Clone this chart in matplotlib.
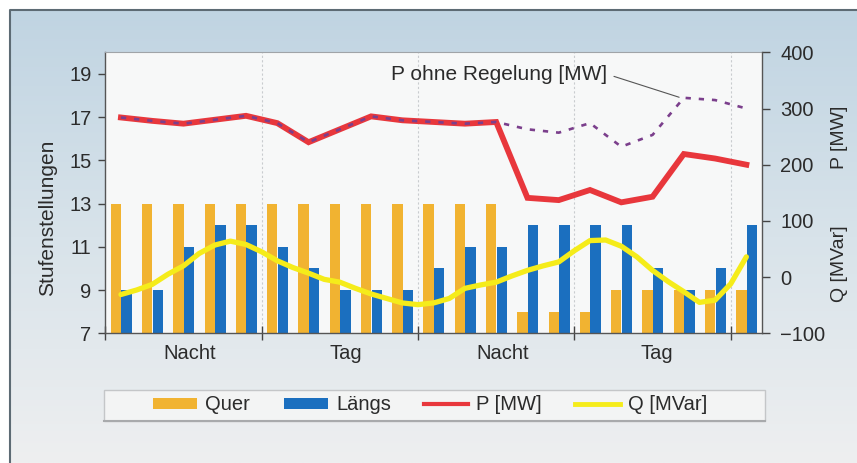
import numpy as np
import matplotlib
matplotlib.use("Agg")
import matplotlib.pyplot as plt
from matplotlib.patches import Rectangle, Patch
from matplotlib.lines import Line2D
from matplotlib.colors import to_rgb

plt.rcParams['font.family'] = ['Liberation Sans', 'DejaVu Sans']
plt.rcParams['font.size'] = 14.5

# ---------------- data ----------------
groups = list(range(21))
quer = [13, 13, 13, 13, 13, 13, 13, 13, 13, 13, 13, 13, 13, 8, 8, 8, 9, 9, 9, 9, 9]
laengs = [9, 9, 11, 12, 12, 11, 10, 9, 9, 9, 10, 11, 11, 12, 12, 12, 12, 10, 9, 10, 12]
p_mw = [284, 278, 273, 280, 287, 274, 240, 263, 286, 279, 276, 273, 276,
        141, 137, 155, 133, 143, 219, 211, 200]
p_ohne = [284, 278, 273, 280, 287, 274, 240, 263, 286, 279, 276, 273, 276,
          263, 257, 274, 232, 253, 319, 315, 300]
q_pos = [i * 0.5 for i in range(41)]
q_mvar = [-31, -23, -13, 5, 20, 42, 57, 64, 58, 45, 29, 17, 7, -4, -9, -20,
          -30, -38, -46, -49, -46, -38, -20, -14, -9, 2, 12, 20, 27, 47, 65,
          66, 55, 36, 12, -8, -26, -45, -41, -12, 36]
period_labels = ["Nacht", "Tag", "Nacht", "Tag"]
period_pos = [2.2, 7.2, 12.2, 17.15]
boundaries = [-0.5, 4.5, 9.5, 14.5, 19.5]
left_ticks = [7, 9, 11, 13, 15, 17, 19]
right_ticks = [-100, 0, 100, 200, 300, 400]

c_quer = '#f1b331'
c_laengs = '#1b6fbf'
c_p = '#e8373c'
c_q = '#f5ec1a'
c_ohne = '#7b3f8c'
c_txt = '#2b2b2b'

W, H = 857, 463
fig = plt.figure(figsize=(W / 100, H / 100), dpi=100)
fig.patch.set_facecolor('white')

# background panel with gradient
bg = fig.add_axes([0, 0, 1, 1], zorder=-10)
bg.set_axis_off()
top = np.array(to_rgb('#c0d4e2'))
mid = np.array(to_rgb('#d8e3ea'))
bot = np.array(to_rgb('#eeeff0'))
t = np.linspace(0, 1, 200)[:, None]
grad = np.where(t < 0.5, top + (mid - top) * (t / 0.5), mid + (bot - mid) * ((t - 0.5) / 0.5))
grad = grad[:, None, :].repeat(2, axis=1)
bg.imshow(grad, extent=[10 / W, 1, 0, 1 - 10 / H], aspect='auto', origin='upper',
          transform=bg.transAxes, zorder=0)
bg.set_xlim(0, 1)
bg.set_ylim(0, 1)
bg.plot([10 / W, 10 / W, 1], [0, 1 - 10 / H, 1 - 10 / H], color='#5d6b74', lw=1.5,
        transform=bg.transAxes, zorder=1)
# legend box
bg.add_patch(Rectangle((104 / W, 1 - 421 / H), (765 - 104) / W, 31 / H,
                       transform=bg.transAxes, facecolor='#f3f4f4',
                       edgecolor='#c4c6c8', lw=1.0, zorder=2))
bg.plot([104 / W, 765 / W], [1 - 421 / H, 1 - 421 / H], color='#a8aaac', lw=1.5,
        transform=bg.transAxes, zorder=3)

# main axes
ax = fig.add_axes([105.3 / W, 1 - 333.3 / H, (762 - 105.3) / W, (333.3 - 52.3) / H])
ax.set_facecolor('#f7f8f8')
x = np.array(groups)
bw = 0.33
ax.bar(x - 0.16, quer, width=bw, color=c_quer, zorder=2)
ax.bar(x + 0.18, laengs, width=bw, color=c_laengs, zorder=2)
ax.set_xlim(-0.5, 20.5)
ax.set_ylim(7, 20)
ax.set_yticks(left_ticks)
ax.set_ylabel("Stufenstellungen", color=c_txt, fontsize=15)
ax.yaxis.set_label_coords(-0.073, 0.412)
for b in boundaries[1:]:
    ax.axvline(b, color='#c9cccf', lw=0.8, ls=(0, (2, 2)), zorder=1)

ax.set_xticks(boundaries)
ax.set_xticklabels([])
ax.set_xticks(period_pos, minor=True)
ax.set_xticklabels(period_labels, minor=True)
ax.tick_params(axis='x', which='major', direction='inout', length=10, width=1, color='#444')
ax.tick_params(axis='x', which='minor', length=0, pad=8, labelcolor=c_txt)
ax.tick_params(axis='y', direction='out', length=5, width=1, pad=5, color='#444', labelcolor=c_txt)
for s in ['left', 'bottom']:
    ax.spines[s].set_color('#555')
    ax.spines[s].set_linewidth(1.0)
ax.spines['top'].set_color('#a0a4a8')
ax.spines['top'].set_linewidth(0.8)
ax.spines['right'].set_visible(False)

ax2 = ax.twinx()
ax2.set_ylim(-100, 400)
ax2.set_yticks(right_ticks)
ax2.set_yticklabels([str(v).replace('-', '\u2212') for v in right_ticks])
ax2.tick_params(axis='y', direction='out', length=6, width=1, pad=7, color='#444', labelcolor=c_txt)
ax2.spines['right'].set_color('#555')
ax2.spines['right'].set_linewidth(1.0)
for s in ['left', 'bottom', 'top']:
    ax2.spines[s].set_visible(False)

ax2.plot(q_pos, q_mvar, color=c_q, lw=3.8, solid_joinstyle='round', solid_capstyle='round', zorder=3)
ax2.plot(groups, p_mw, color=c_p, lw=4.2, solid_joinstyle='miter', zorder=4)
ax2.plot(groups, p_ohne, color=c_ohne, lw=1.9, ls=(0, (2.0, 3.0)), zorder=5)

ax2.annotate("P ohne Regelung [MW]", xy=(17.85, 320), xytext=(15.55, 361),
             ha='right', va='center', color=c_txt, fontsize=15,
             arrowprops=dict(arrowstyle='-', color='#555', lw=0.8,
                             relpos=(1.0, 0.5), shrinkA=3, shrinkB=0))

fig.text(840 / W, 1 - 137.5 / H, "P [MW]", rotation=90, ha='center', va='center',
         color=c_txt, fontsize=14)
fig.text(840 / W, 1 - 264 / H, "Q [MVar]", rotation=90, ha='center', va='center',
         color=c_txt, fontsize=14)

handles = [Patch(facecolor=c_quer, edgecolor='none'),
           Patch(facecolor=c_laengs, edgecolor='none'),
           Line2D([], [], color=c_p, lw=3),
           Line2D([], [], color=c_q, lw=3.5)]
fig.legend(handles, ["Quer", "Längs", "P [MW]", "Q [MVar]"], loc='center',
           bbox_to_anchor=(430 / W, 1 - 405 / H), ncol=4, frameon=False,
           handlelength=2.2, handleheight=0.5, handletextpad=0.4, columnspacing=1.65,
           fontsize=14.5, labelcolor=c_txt)

fig.savefig("out.png", dpi=100, facecolor=fig.get_facecolor())
